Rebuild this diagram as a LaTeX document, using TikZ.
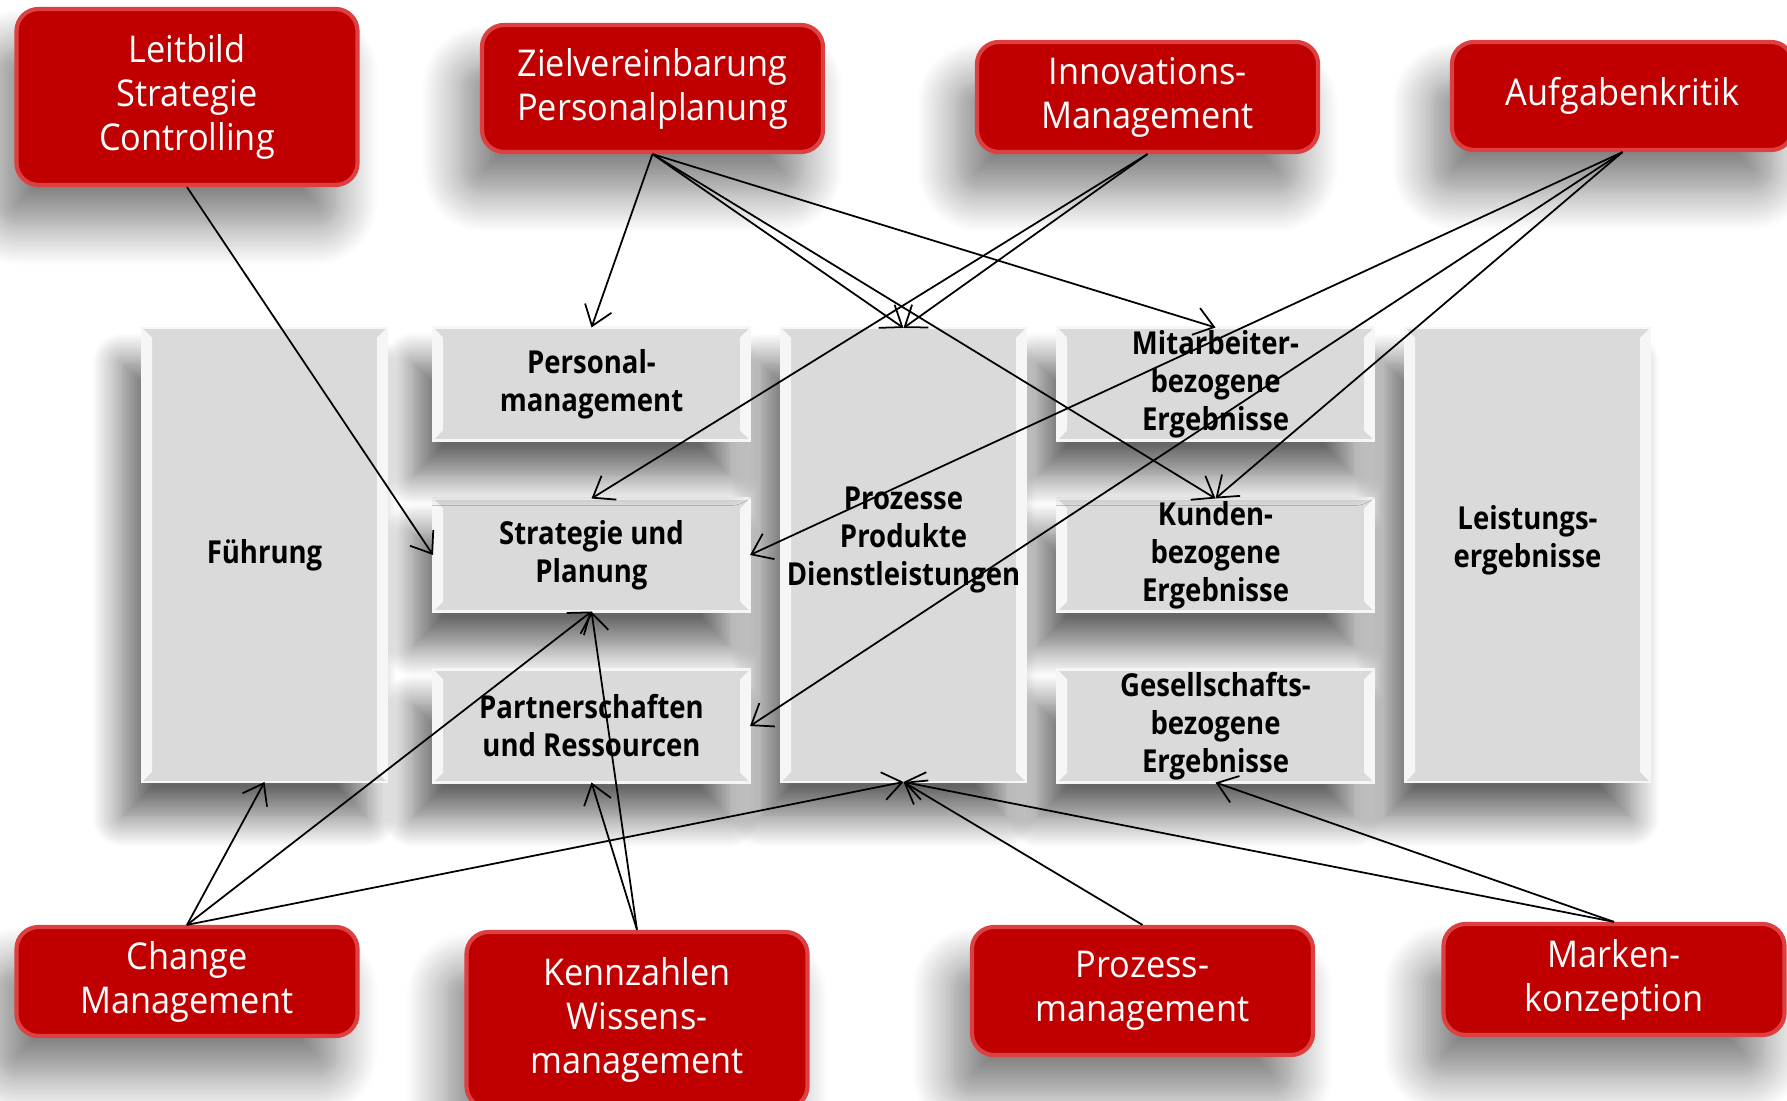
\documentclass[tikz,border=0pt]{standalone}
\usepackage{fontspec}
\setmainfont{Open Sans}[FakeStretch=0.93]
\newfontfamily\boxfont{Open Sans}[FakeStretch=0.87]
\usepackage{tikz}
\usetikzlibrary{arrows.meta}
\usetikzlibrary{positioning}
\usetikzlibrary{shadows.blur}

\definecolor{boxred}{RGB}{192,0,0}
\definecolor{boxredrim}{RGB}{220,64,64}
\definecolor{boxgray}{RGB}{218,218,218}
\definecolor{boxgrayrim}{RGB}{246,246,246}

\begin{document}
\begin{tikzpicture}[>={Straight Barb[length=1.9mm,width=2.8mm]}, line width=0.5pt,
	node distance=0.58cm and 0.31cm, align=center,
	grey box/.style={rectangle, fill=boxgray, draw=boxgrayrim, line width=0.8pt, inner sep=0pt, outer sep=0pt,
		font=\boxfont\fontsize{9}{10.8}\selectfont\bfseries, minimum width=3.17cm, minimum height=1.13cm,
		blur shadow={shadow xshift=-2mm, shadow yshift=-3.5mm, shadow blur radius=3mm, shadow blur steps=16, shadow opacity=60},
		path picture={
			\fill [boxgrayrim] (path picture bounding box.north west) -- ([shift={(1mm,-1mm)}]path picture bounding box.north west)
				-- ([shift={(1mm,1mm)}]path picture bounding box.south west) -- (path picture bounding box.south west) -- cycle;
			\fill [boxgrayrim] (path picture bounding box.north east) -- ([shift={(-1mm,-1mm)}]path picture bounding box.north east)
				-- ([shift={(-1mm,1mm)}]path picture bounding box.south east) -- (path picture bounding box.south east) -- cycle;
		}},
	grey column/.style={grey box, minimum width=2.45cm, minimum height=4.54cm},
	red box/.style={rectangle, rounded corners=2.2mm, fill=boxred, draw=boxredrim, line width=1.2pt,
		text=white, font=\fontsize{10.5}{12.5}\selectfont, minimum width=3.41cm,
		blur shadow={shadow xshift=-2mm, shadow yshift=-4mm, shadow blur radius=4mm, shadow blur steps=16, shadow opacity=50}},
]
\useasboundingbox (0,0) rectangle (17.87,-11.01);
% grey model, drawn from right to left
\node [grey column] at (15.275,-5.55) (leistung) {Leistungs-\\ergebnisse\\~};
\node [grey box] (kunden) [left=of leistung] {Kunden-\\bezogene\\Ergebnisse};
\node [grey box] (mitarb) [above=of kunden] {Mitarbeiter-\\bezogene\\Ergebnisse};
\node [grey box] (gesell) [below=of kunden] {Gesellschafts-\\bezogene\\Ergebnisse};
\node [grey column] (prozesse) [left=of kunden] {Prozesse\\Produkte\\Dienstleistungen\\~};
\node [grey box] (strategie) [left=of prozesse] {Strategie und\\Planung};
\node [grey box] (personal) [above=of strategie] {Personal-\\management};
\node [grey box] (partner) [below=of strategie] {Partnerschaften\\und Ressourcen};
\node [grey column] (fuehrung) [left=0.46cm of strategie] {Führung};
% red instruments
\node [red box, minimum height=1.76cm] at (1.87,-0.97) (leitbild) {Leitbild\\Strategie\\Controlling};
\node [red box, minimum height=1.27cm] at (6.525,-0.885) (ziel) {Zielvereinbarung\\Personalplanung};
\node [red box, minimum height=1.10cm] at (11.475,-0.97) (innov) {Innovations-\\Management};
\node [red box, minimum height=1.08cm] at (16.225,-0.96) (aufgaben) {Aufgabenkritik};
\node [red box, minimum height=1.09cm] at (1.87,-9.815) (change) {Change\\Management};
\node [red box, minimum height=1.76cm] at (6.37,-10.2) (kennzahl) {Kennzahlen\\Wissens-\\management};
\node [red box, minimum height=1.28cm] at (11.425,-9.91) (prozessm) {Prozess-\\management};
\node [red box, minimum height=1.11cm] at (16.14,-9.795) (marken) {Marken-\\konzeption};
%
\draw [->] (leitbild.south) -- (strategie.west);
\draw [->] (ziel.south) -- (personal.north);
\draw [->] (ziel.south) -- (prozesse.north);
\draw [->] (ziel.south) -- (mitarb.north);
\draw [->] (ziel.south) -- (kunden.north);
\draw [->] (innov.south) -- (prozesse.north);
\draw [->] (innov.south) -- (strategie.north);
\draw [->] (aufgaben.south) -- (strategie.east);
\draw [->] (aufgaben.south) -- (partner.east);
\draw [->] (aufgaben.south) -- (kunden.north);
\draw [->] (change.north) -- (fuehrung.south);
\draw [->] (change.north) -- (strategie.south);
\draw [->] (change.north) -- (prozesse.south);
\draw [->] (kennzahl.north) -- (partner.south);
\draw [->] (kennzahl.north) -- (strategie.south);
\draw [->] (prozessm.north) -- (prozesse.south);
\draw [->] (marken.north) -- (prozesse.south);
\draw [->] (marken.north) -- (gesell.south);
\end{tikzpicture}
\end{document}
